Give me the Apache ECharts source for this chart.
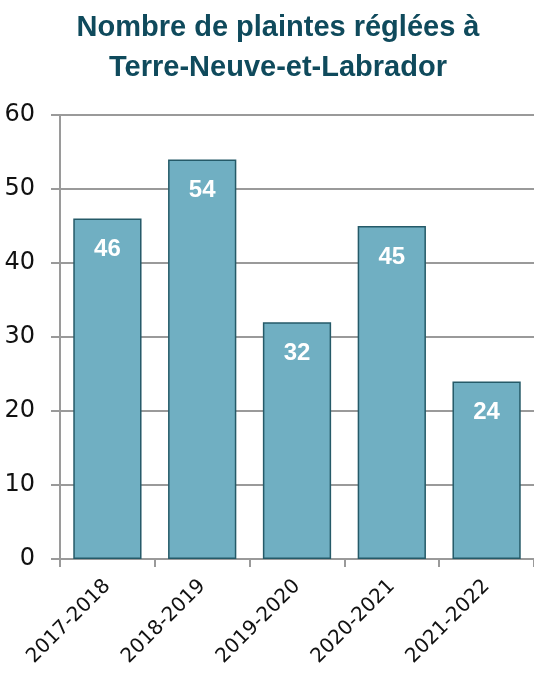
<!DOCTYPE html>
<html><head><meta charset="utf-8">
<script src="https://cdn.jsdelivr.net/npm/echarts@6/dist/echarts.min.js"></script>
<style>html,body{margin:0;padding:0;background:#fff}#c{width:534px;height:673px}</style>
</head><body><div id="c"></div>
<script>
const categories = ['2017-2018','2018-2019','2019-2020','2020-2021','2021-2022'];
const values = [46, 54, 32, 45, 24];
const yTicks = [0, 10, 20, 30, 40, 50, 60];
const titleLines = ['Nombre de plaintes réglées à', 'Terre-Neuve-et-Labrador'];

const chart = echarts.init(document.getElementById('c'));
chart.setOption({
  animation: false,
  title: {
    text: titleLines.join('\n'),
    left: 273, top: 3, textAlign: 'center',
    textStyle: { fontFamily: 'Liberation Sans', fontWeight: 'bold', fontSize: 29, color: '#0F4A5C', lineHeight: 40 }
  },
  grid: { left: 60, right: -1, top: 115, bottom: 114, containLabel: false },
  xAxis: {
    type: 'category', data: categories,
    axisLine: { lineStyle: { color: '#9A9A9A', width: 2 } },
    axisTick: { show: true, length: 8, lineStyle: { color: '#9A9A9A', width: 2 } },
    axisLabel: { rotate: 45, margin: 24, fontFamily: 'DejaVu Sans', fontSize: 20, color: '#111' }
  },
  yAxis: {
    type: 'value', min: yTicks[0], max: yTicks[yTicks.length-1], interval: 10,
    axisLine: { show: true, lineStyle: { color: '#9A9A9A', width: 2 } },
    axisTick: { show: true, length: 9, lineStyle: { color: '#9A9A9A', width: 2 } },
    splitLine: { lineStyle: { color: '#9A9A9A', width: 2 } },
    axisLabel: { margin: 25, fontFamily: 'DejaVu Sans', fontSize: 24, color: '#111', padding: [4, 0, 0, 0] }
  },
  series: [{
    type: 'bar', data: values, barCategoryGap: '28%',
    itemStyle: { color: '#70AFC2', borderColor: '#255A68', borderWidth: 1.5 },
    label: { show: true, position: 'insideTop', distance: 19, color: '#fff', fontFamily: 'Liberation Sans', fontWeight: 'bold', fontSize: 24 }
  }]
});
</script></body></html>
